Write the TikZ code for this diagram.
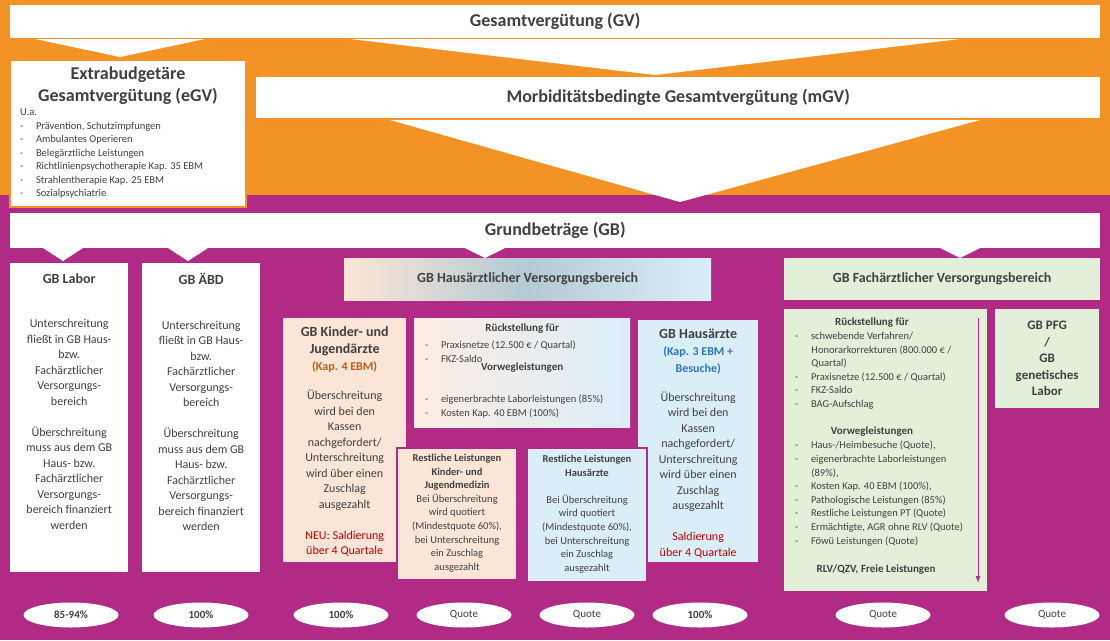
\documentclass[tikz,border=0pt]{standalone}
\usepackage{fontspec}
\setmainfont{Carlito}
\usetikzlibrary{positioning,shapes.geometric,arrows.meta}
\definecolor{gvorange}{HTML}{F39325}
\definecolor{gbpurple}{HTML}{B12A85}
\definecolor{txtgray}{HTML}{404040}
\definecolor{peach}{HTML}{FBE5D6}
\definecolor{ltblue}{HTML}{DAEEF8}
\definecolor{midblue}{HTML}{B3CAD5}
\definecolor{ltgreen}{HTML}{E2F0D9}
\definecolor{kaporange}{HTML}{C55A11}
\definecolor{kapblue}{HTML}{2E75B6}
\definecolor{kapred}{HTML}{C00000}
\tikzset{
  box/.style={rectangle, fill=white, draw=none, inner sep=0pt, anchor=north west},
  head/.style={font=\bfseries\fontsize{18}{22}\selectfont, text=txtgray, align=center},
  sub/.style={font=\bfseries\fontsize{14}{17}\selectfont, text=txtgray, align=center},
  txt/.style={font=\fontsize{12}{15.5}\selectfont, text=txtgray, align=center, inner sep=0pt},
  small/.style={font=\fontsize{10.5}{13.6}\selectfont, text=txtgray, align=left, inner sep=0pt},
  oval/.style={ellipse, fill=white, minimum width=95pt, minimum height=25pt, inner sep=0pt,
    font=\fontsize{11}{13}\selectfont, text=txtgray},
  tri/.style={fill=white, draw=none}
}
\newcommand{\itm}{-\hspace{1.2em}}
\newcommand{\ind}{\hspace*{1.55em}}
\begin{document}
\begin{tikzpicture}[x=1pt, y=-1pt]
  \useasboundingbox (0,0) rectangle (1110,640);
  % backgrounds
  \fill[gbpurple] (0,0) rectangle (1110,640);
  \fill[gvorange] (0,0) rectangle (1110,195);

  % Gesamtverguetung
  \node[box, minimum width=1090pt, minimum height=33pt] (gv) at (10,5) {};
  \node[head] (gvtxt) at (gv.center) {Gesamtvergütung (GV)};
  \fill[tri] (35,39) -- (205,39) -- (120,57) -- cycle;
  \fill[tri] (350,39) -- (960,39) -- (655,75) -- cycle;

  % mGV
  \node[box, minimum width=844pt, minimum height=41pt] (mgv) at (256,77) {};
  \node[head] (mgvtxt) at (mgv.center) {Morbiditätsbedingte Gesamtvergütung (mGV)};
  \fill[tri] (390,120) -- (980,120) -- (680,202) -- cycle;

  % eGV
  \node[box, draw=gvorange, line width=2pt, minimum width=236pt, minimum height=147pt] (egv) at (9,59) {};
  \node[head, below=4pt of egv.north] (egvtitle) {Extrabudgetäre\\Gesamtvergütung (eGV)};
  \node[small, anchor=north west, font=\fontsize{10.5}{13.5}\selectfont] (egvlist) at (20,109)
    {U.a.\\
     \itm Prävention, Schutzimpfungen\\
     \itm Ambulantes Operieren\\
     \itm Belegärztliche Leistungen\\
     \itm Richtlinienpsychotherapie Kap. 35 EBM\\
     \itm Strahlentherapie Kap. 25 EBM\\
     \itm Sozialpsychiatrie};

  % Grundbetraege
  \node[box, minimum width=1090pt, minimum height=35pt] (gb) at (10,213) {};
  \node[head] (gbtxt) at (gb.center) {Grundbeträge (GB)};
  \fill[tri] (43,248) -- (83,248) -- (63,261) -- cycle;
  \fill[tri] (168,248) -- (208,248) -- (188,261) -- cycle;
  \fill[tri] (465,248) -- (505,248) -- (485,258) -- cycle;
  \fill[tri] (940,248) -- (980,248) -- (960,258) -- cycle;

  % GB Labor / GB AeBD
  \node[box, minimum width=118pt, minimum height=309pt] (lab) at (10,263) {};
  \node[sub, below=7pt of lab.north] (labtitle) {GB Labor};
  \node[txt, below=32pt of labtitle.south] (labtxt)
    {Unterschreitung\\fließt in GB Haus-\\bzw.\\Fachärztlicher\\Versorgungs-\\bereich\\[15.5pt]
     Überschreitung\\muss aus dem GB\\Haus- bzw.\\Fachärztlicher\\Versorgungs-\\bereich finanziert\\werden};
  \node[box, minimum width=118pt, minimum height=309pt] (abd) at (142,263) {};
  \node[sub, below=7pt of abd.north] (abdtitle) {GB ÄBD};
  \node[txt, below=32pt of abdtitle.south] (abdtxt)
    {Unterschreitung\\fließt in GB Haus-\\bzw.\\Fachärztlicher\\Versorgungs-\\bereich\\[15.5pt]
     Überschreitung\\muss aus dem GB\\Haus- bzw.\\Fachärztlicher\\Versorgungs-\\bereich finanziert\\werden};

  % Hausaerztlicher Versorgungsbereich
  \node[box, left color=peach, right color=ltblue, middle color=midblue,
    minimum width=367pt, minimum height=42pt] (hvb) at (344,258) {};
  \node[sub] (hvbtxt) at (hvb.center) {GB Hausärztlicher Versorgungsbereich};

  \node[box, fill=peach, minimum width=123pt, minimum height=244pt] (kj) at (283,318) {};
  \node[sub, below=5pt of kj.north] (kjtitle)
    {GB Kinder- und\\Jugendärzte\\{\color{kaporange}\fontsize{12}{15}\selectfont(Kap. 4 EBM)}};
  \node[txt, below=14pt of kjtitle.south] (kjtxt)
    {Überschreitung\\wird bei den\\Kassen\\nachgefordert/\\Unterschreitung\\wird über einen\\Zuschlag\\ausgezahlt\\[15.5pt]
     {\color{kapred}NEU: Saldierung}\\{\color{kapred}über 4 Quartale}};

  \node[box, left color=peach!70, right color=ltblue, minimum width=216pt, minimum height=109pt] (rue) at (414,318) {};
  \node[small, font=\bfseries\fontsize{11}{13.5}\selectfont, below=6pt of rue.north] (ruetitle) {Rückstellung für};
  \node[small, anchor=north west] (ruelist) at (425,341)
    {\itm Praxisnetze (12.500 € / Quartal)\\\itm FKZ-Saldo};
  \node[small, font=\bfseries\fontsize{11}{13.5}\selectfont, below=29pt of ruetitle.south] (vwtitle) {Vorwegleistungen};
  \node[small, anchor=north west] (vwlist) at (425,395)
    {\itm eigenerbrachte Laborleistungen (85\%)\\\itm Kosten Kap. 40 EBM (100\%)};

  \node[box, fill=ltblue, minimum width=120pt, minimum height=242pt] (ha) at (638,320) {};
  \node[sub, below=5pt of ha.north] (hatitle)
    {GB Hausärzte\\{\color{kapblue}\fontsize{12}{15}\selectfont(Kap. 3 EBM +}\\{\color{kapblue}\fontsize{12}{15}\selectfont Besuche)}};
  \node[txt, below=14pt of hatitle.south] (hatxt)
    {Überschreitung\\wird bei den\\Kassen\\nachgefordert/\\Unterschreitung\\wird über einen\\Zuschlag\\ausgezahlt\\[15.5pt]
     {\color{kapred}Saldierung}\\{\color{kapred}über 4 Quartale}};

  \node[box, fill=peach, draw=gbpurple, line width=2pt, minimum width=120pt, minimum height=132pt] (rkj) at (396,447) {};
  \node[small, align=center, below=7pt of rkj.north] (rkjtxt)
    {\textbf{Restliche Leistungen}\\\textbf{Kinder- und}\\\textbf{Jugendmedizin}\\Bei Überschreitung\\wird quotiert\\(Mindestquote 60\%),\\bei Unterschreitung\\ein Zuschlag\\ausgezahlt};
  \node[box, fill=ltblue, draw=gbpurple, line width=2pt, minimum width=120pt, minimum height=134pt] (rha) at (526,447) {};
  \node[small, align=center, below=8pt of rha.north] (rhatxt)
    {\textbf{Restliche Leistungen}\\\textbf{Hausärzte}\\[13.6pt]Bei Überschreitung\\wird quotiert\\(Mindestquote 60\%),\\bei Unterschreitung\\ein Zuschlag\\ausgezahlt};

  % Fachaerztlicher Versorgungsbereich
  \node[box, fill=ltgreen, minimum width=316pt, minimum height=42pt] (fvb) at (784,258) {};
  \node[sub] (fvbtxt) at (fvb.center) {GB Fachärztlicher Versorgungsbereich};

  \node[box, fill=ltgreen, minimum width=203pt, minimum height=282pt] (fa) at (784,309) {};
  \node[small, font=\bfseries\fontsize{11}{13.5}\selectfont] (fatitle) at (872,323) {Rückstellung für};
  \node[small, anchor=north west] (falist) at (795,332)
    {\itm schwebende Verfahren/\\\ind Honorarkorrekturen (800.000 € /\\\ind Quartal)\\
     \itm Praxisnetze (12.500 € / Quartal)\\\itm FKZ-Saldo\\\itm BAG-Aufschlag};
  \node[small, font=\bfseries\fontsize{11}{13.5}\selectfont] (favwtitle) at (872,432) {Vorwegleistungen};
  \node[small, anchor=north west] (favwlist) at (795,441)
    {\itm Haus-/Heimbesuche (Quote),\\\itm eigenerbrachte Laborleistungen\\\ind (89\%),\\
     \itm Kosten Kap. 40 EBM (100\%),\\\itm Pathologische Leistungen (85\%)\\
     \itm Restliche Leistungen PT (Quote)\\\itm Ermächtigte, AGR ohne RLV (Quote)\\\itm Föwü Leistungen (Quote)};
  \node[small, font=\bfseries\fontsize{11}{13.5}\selectfont] (farlv) at (876,570) {RLV/QZV, Freie Leistungen};
  \coordinate (arrtop) at (978,318);
  \coordinate (arrbot) at (978,583);
  \draw[gbpurple, line width=1pt, -{Latex[length=7pt,width=5pt]}] (arrtop) -- (arrbot);

  \node[box, fill=ltgreen, minimum width=104pt, minimum height=99pt] (pfg) at (995,309) {};
  \node[sub, font=\bfseries\fontsize{13}{16.5}\selectfont] (pfgtxt) at (pfg.center) {GB PFG\\/\\GB\\genetisches\\Labor};

  % Quoten
  \node[oval, font=\bfseries\fontsize{11}{13}\selectfont] (q1) at (71,615) {85-94\%};
  \node[oval, font=\bfseries\fontsize{11}{13}\selectfont] (q2) at (201,615) {100\%};
  \node[oval, font=\bfseries\fontsize{11}{13}\selectfont] (q3) at (341,615) {100\%};
  \node[oval] (q4) at (464,615) {Quote};
  \node[oval] (q5) at (587,615) {Quote};
  \node[oval, font=\bfseries\fontsize{11}{13}\selectfont] (q6) at (700,615) {100\%};
  \node[oval] (q7) at (883,615) {Quote};
  \node[oval] (q8) at (1052,615) {Quote};
\end{tikzpicture}
\end{document}
